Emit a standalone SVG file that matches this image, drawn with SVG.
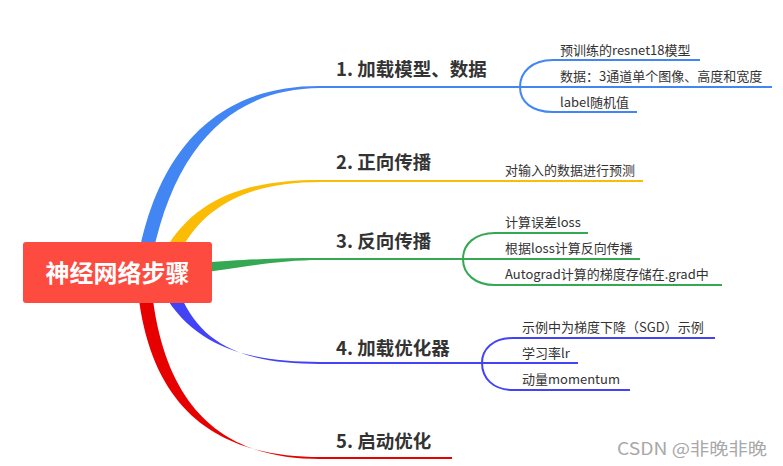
<svg xmlns="http://www.w3.org/2000/svg" width="783" height="466" viewBox="0 0 783 466">
<style>
.lbl{font-family:"Noto Sans CJK SC","Liberation Sans",sans-serif;font-weight:bold;font-size:18.5px;fill:#333}
.sub{font-family:"Noto Sans CJK SC","Liberation Sans",sans-serif;font-size:13px;fill:#333}
.ln{fill:none;stroke-width:2}
</style>
<rect width="783" height="466" fill="#fff"/>
<g id="connectors">
  <path fill="#4286f3" d="M138,258 C162,129 236,85.5 320,86 L320,88 C242,88.5 177,134 152,258 Z"/>
  <path class="ln" stroke="#4286f3" d="M318,87 H520 M553,60 C532,60 520,72 520,87 C520,102 532,112 553,112 M553,60 H700 M520,87 H772 M553,112 H637"/>
  <path fill="#fbbc05" d="M164,252 C195,197 248,180 320,180 L320,182 C253,182 205,203 180,252 Z"/>
  <path class="ln" stroke="#fbbc05" d="M318,181 H643"/>
  <path fill="#34a853" d="M200,263 C250,259 282,258 320,258 L320,260 C282,260 250,266 200,273 Z"/>
  <path class="ln" stroke="#34a853" d="M318,259 H463 M495,233 C475,233 463,244 463,259 C463,274 475,285 495,285 M495,233 H588 M463,259 H640 M495,285 H722"/>
  <path fill="#4242f7" d="M164,294 C195,347 248,362 320,362 L320,364 C253,364 203,350 180,294 Z"/>
  <path class="ln" stroke="#4242f7" d="M318,363 H482 M513,338 C493,338 482,349 482,363 C482,378 493,390 513,390 M513,338 H715 M482,363 H578 M513,390 H630"/>
  <path fill="#e60000" d="M138,292 C153,426 236,457 320,457 L320,459 C240,459 167,425 152,292 Z"/>
  <path class="ln" stroke="#e60000" d="M318,458 H452"/>
</g>
<g id="root">
  <rect x="23" y="242" width="189" height="61" rx="3" fill="#fd4b3f"/>
  <text x="117.5" y="281.5" text-anchor="middle" font-family="Noto Sans CJK SC, sans-serif" font-weight="bold" font-size="24" fill="#fff">神经网络步骤</text>
</g>
<g id="n1">
  <text class="lbl" x="336" y="76">1. 加载模型、数据</text>
  <text class="sub" x="560" y="55">预训练的resnet18模型</text>
  <text class="sub" x="560" y="81">数据：3通道单个图像、高度和宽度</text>
  <text class="sub" x="560" y="107">label随机值</text>
</g>
<g id="n2">
  <text class="lbl" x="336" y="169">2. 正向传播</text>
  <text class="sub" x="505" y="175">对输入的数据进行预测</text>
</g>
<g id="n3">
  <text class="lbl" x="336" y="248">3. 反向传播</text>
  <text class="sub" x="505" y="227">计算误差loss</text>
  <text class="sub" x="505" y="253">根据loss计算反向传播</text>
  <text class="sub" x="505" y="279">Autograd计算的梯度存储在.grad中</text>
</g>
<g id="n4">
  <text class="lbl" x="336" y="355">4. 加载优化器</text>
  <text class="sub" x="522" y="332">示例中为梯度下降（SGD）示例</text>
  <text class="sub" x="522" y="358">学习率lr</text>
  <text class="sub" x="522" y="384">动量momentum</text>
</g>
<g id="n5">
  <text class="lbl" x="336" y="448">5. 启动优化</text>
</g>
<text x="617" y="455" font-family="Noto Sans CJK SC, sans-serif" font-size="17" fill="#a8a8a8" textLength="150" lengthAdjust="spacingAndGlyphs">CSDN @非晚非晚</text>
</svg>
